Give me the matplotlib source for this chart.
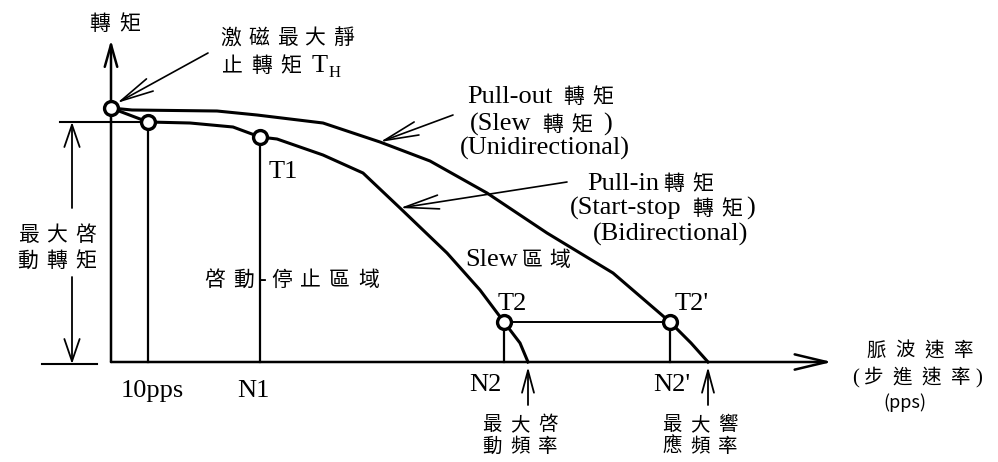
import matplotlib
matplotlib.use('Agg')
import matplotlib.pyplot as plt
from matplotlib.font_manager import FontProperties

LAT = 'Liberation Serif'
CJK = 'Noto Sans CJK TC'

# torque curves (x = pulse rate, y = torque, arbitrary units)
pullout_x = [0, 21, 106, 146, 212, 269, 319, 376, 436, 502, 559, 580, 597]
pullout_y = [254, 252, 251, 247, 239, 220, 201, 169, 129, 89, 40, 19, 0]
pullin_x = [0, 37, 79, 122, 149, 166, 212, 252, 289, 336, 369, 393, 409, 417]
pullin_y = [254, 240, 239, 235, 225, 223, 207, 189, 154, 109, 72, 40, 19, 0]

# marked points: TH, 10pps, T1, T2, T2'
mark_x = [0, 37, 149, 393, 559]
mark_y = [254, 240, 225, 40, 40]
mark_names = ['', '', 'T1', 'T2', "T2'"]
tick_names = ['', '10pps', 'N1', 'N2', "N2'"]

fig = plt.figure(figsize=(9.98, 4.62), dpi=100)
ax = fig.add_axes([0, 0, 1, 1])
ax.set_xlim(-111, 887)
ax.set_ylim(-100, 362)
ax.axis('off')
renderer = fig.canvas.get_renderer()


def put(x, y, s, ha='left', size=19, csize=15, pitch=29):
    # latin runs in serif, each CJK glyph on its own wide pitch
    runs = []
    for ch in s:
        kind = 'c' if ord(ch) > 0x2e7f else ('s' if ch == ' ' else 'l')
        if kind == 'l' and runs and runs[-1][1] == 'l':
            runs[-1][0] += ch
        else:
            runs.append([ch, kind])
    prop = FontProperties(family=LAT, size=size)
    widths = []
    for txt, kind in runs:
        if kind == 'c':
            widths.append(pitch)
        elif kind == 's':
            widths.append(size * 0.25 * 100 / 72)
        else:
            widths.append(renderer.get_text_width_height_descent(txt, prop, ismath=False)[0])
    total = sum(widths)
    x0 = x - {'left': 0, 'center': total / 2, 'right': total}[ha]
    for (txt, kind), w in zip(runs, widths):
        if kind == 'c':
            ax.text(x0 + w / 2, y, txt, ha='center', va='baseline', fontsize=csize, family=CJK)
        elif kind == 'l':
            ax.text(x0, y, txt, ha='left', va='baseline', fontsize=size, family=LAT)
        x0 += w
    return x0


def arrow(tip, tail, hl, hw, lw=1.5):
    ax.annotate('', xy=tip, xytext=tail,
                arrowprops=dict(arrowstyle='->,head_length=%g,head_width=%g' % (hl, hw),
                                lw=lw, color='k', shrinkA=0, shrinkB=0, mutation_scale=10))


# axes
arrow((0, 322), (0, 0), 1.6, 0.45, lw=1.8)
arrow((721, 0), (0, 0), 2.3, 0.55, lw=1.8)
ax.plot([-69, -14], [-2, -2], color='k', lw=1.5)
ax.plot([-51, mark_x[1]], [mark_y[1], mark_y[1]], color='k', lw=1.5)

# max starting torque double arrow
arrow((-39, mark_y[1]), (-39, 154), 1.6, 0.55, lw=1.3)
arrow((-39, -2), (-39, 85), 1.6, 0.55, lw=1.3)

# curves
ax.plot(pullout_x, pullout_y, color='k', lw=2.2)
ax.plot(pullin_x, pullin_y, color='k', lw=2.2)

# drop lines and T2-T2' line
for mx, my in zip(mark_x[1:], mark_y[1:]):
    ax.plot([mx, mx], [0, my], color='k', lw=1.6)
ax.plot([mark_x[3], mark_x[4]], [mark_y[3], mark_y[4]], color='k', lw=1.4)
ax.plot(mark_x, mark_y, 'o', ms=10, mfc='white', mec='k', mew=2.4, ls='none', zorder=5)

# pointers
arrow((6, 259), (97, 309), 2.4, 0.5, lw=1.2)
arrow((pullout_x[5], pullout_y[5]), (342, 247), 2.5, 0.5, lw=1.2)
arrow((pullin_x[8], pullin_y[8]), (456, 180), 2.5, 0.5, lw=1.2)
arrow((pullin_x[-1], -5), (pullin_x[-1], -43), 1.6, 0.43, lw=1.3)
arrow((pullout_x[-1], -5), (pullout_x[-1], -43), 1.6, 0.43, lw=1.3)

# labels
put(4, 332, '轉矩', ha='center', pitch=30)
put(106, 318, '激磁最大靜', pitch=28)
end = put(107, 290, '止轉矩 T', pitch=29)
ax.text(end + 1, 285, 'H', fontsize=12, family=LAT, va='baseline')

put(431, 259, 'Pull-out 轉矩', ha='center')
put(430, 231, '(Slew 轉矩 )', ha='center')
put(434, 207, '(Unidirectional)', ha='center')
put(541, 172, 'Pull-in轉矩', ha='center')
put(551, 147, '(Start-stop 轉矩)', ha='center')
put(560, 121, '(Bidirectional)', ha='center')

put(-54, 121, '最大啓', ha='center')
put(-54, 95, '動轉矩', ha='center')
put(89, 76, '啓動-停止區域', pitch=29)
put(354, 96, 'Slew區域', pitch=28)

put(172, 184, mark_names[2], ha='center')
put(401, 52, mark_names[3], ha='center')
put(581, 52, mark_names[4], ha='center')

put(41, -35, tick_names[1], ha='center')
put(142, -35, tick_names[2], ha='center')
put(374, -29, tick_names[3], ha='center')
put(561, -29, tick_names[4], ha='center')

put(409, -68, '最大啓', ha='center', csize=14, pitch=28)
put(409, -90, '動頻率', ha='center', csize=14, pitch=28)
put(589, -68, '最大響', ha='center', csize=14, pitch=28)
put(589, -90, '應頻率', ha='center', csize=14, pitch=28)

put(809, 6, '脈波速率', ha='center', csize=14, pitch=29)
put(806, -21, '(步進速率)', ha='center', size=15, csize=14, pitch=29)
ax.text(794, -46, '(pps)', ha='center', va='baseline', fontsize=13, family=CJK)

fig.savefig('out.png', dpi=100, facecolor='white')
